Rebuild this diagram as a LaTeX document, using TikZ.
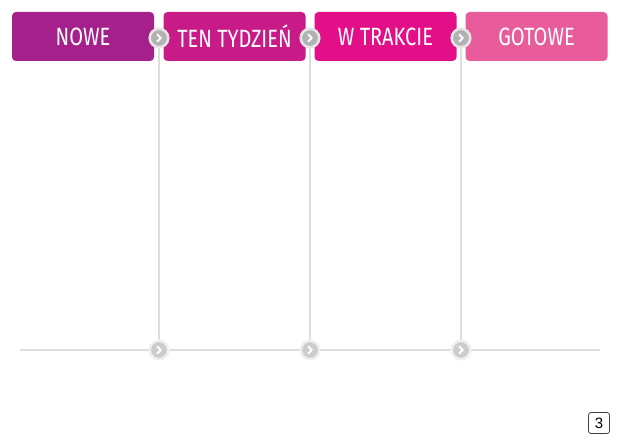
\documentclass[tikz,border=0pt]{standalone}
\usepackage{fontspec}
\setmainfont{Fira Sans}[FakeStretch=0.8]
\newfontfamily\numfont{Liberation Sans}
\begin{document}
\begin{tikzpicture}[x=1pt,y=-1pt,
  colbox/.style={rounded corners=4pt, minimum width=142pt, minimum height=49pt, inner sep=0pt, text=white, font=\fontsize{25}{28}\selectfont},
  knob/.style={circle, fill=#1, draw=black!10, line width=2.6pt, minimum size=18.5pt, inner sep=0pt},
  chev/.style={white, line width=2pt, line cap=round, line join=round},
  rail/.style={draw=black!13, line width=2pt}]
\useasboundingbox (0,0) rectangle (620,443);
\definecolor{cA}{HTML}{A5208B}
\definecolor{cB}{HTML}{C81B88}
\definecolor{cC}{HTML}{E20F89}
\definecolor{cD}{HTML}{E85C9C}
\node[colbox, fill=cA] (b1) at (83,36.5) {NOWE};
\node[colbox, fill=cB] (b2) at (234.5,36.5) {TEN TYDZIEŃ};
\node[colbox, fill=cC] (b3) at (385.5,36.5) {W TRAKCIE};
\node[colbox, fill=cD] (b4) at (536.5,36.5) {GOTOWE};
\coordinate (hl) at (20,350);
\coordinate (hr) at (600,350);
\draw[rail] (hl) -- (hr);
\foreach \i/\x in {1/159,2/310,3/461}{
  \coordinate (t\i) at (\x,38);
  \coordinate (u\i) at (\x,350);
  \draw[rail] (t\i) -- (u\i);
  \node[knob=black!30] (k\i) at (t\i) {};
  \draw[chev] ([xshift=-1.6pt,yshift=-3.4pt]k\i.center) -- ([xshift=1.8pt]k\i.center) -- ([xshift=-1.6pt,yshift=3.4pt]k\i.center);
  \node[knob=black!20, draw=black!6] (m\i) at (u\i) {};
  \draw[chev] ([xshift=-1.6pt,yshift=-3.4pt]m\i.center) -- ([xshift=1.8pt]m\i.center) -- ([xshift=-1.6pt,yshift=3.4pt]m\i.center);
}
\node[draw=black!75, line width=0.8pt, rounded corners=2.5pt, minimum width=21pt, minimum height=21pt, inner sep=0pt, font=\numfont\fontsize{15}{15}\selectfont] (pg) at (599,423) {3};
\end{tikzpicture}
\end{document}
